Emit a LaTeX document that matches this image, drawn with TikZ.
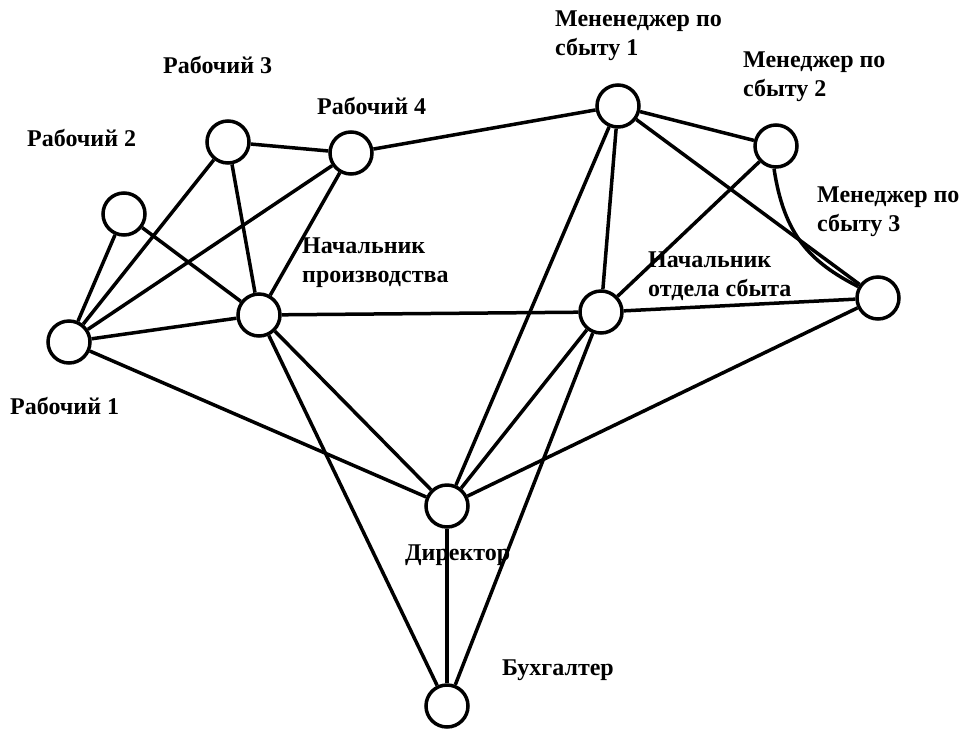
\documentclass[tikz,border=0pt]{standalone}
\usepackage{fontspec}
\setmainfont{Liberation Serif}
\begin{document}
\begin{tikzpicture}[x=1pt,y=-1pt,
  vert/.style={circle,draw,line width=3.5pt,minimum size=42pt,inner sep=0pt},
  lbl/.style={anchor=west,inner sep=0pt,align=left,font=\fontsize{24}{29}\selectfont\bfseries},
  edge/.style={line width=3.5pt}]
\useasboundingbox (0,0) rectangle (972,729);
% vertices
\node[vert] (R1) at (69,342) {};
\node[vert] (R2) at (124,214) {};
\node[vert] (R3) at (228,142) {};
\node[vert] (R4) at (351,153) {};
\node[vert] (NP) at (259,315) {};
\node[vert] (M1) at (618,106) {};
\node[vert] (M2) at (776,146) {};
\node[vert] (M3) at (878,298) {};
\node[vert] (NS) at (601,312) {};
\node[vert] (D) at (447,506) {};
\node[vert] (B) at (447,706) {};
% labels
\node[lbl] (lR1) at (10,406) {Рабочий 1};
\node[lbl] (lR2) at (27,138) {Рабочий 2};
\node[lbl] (lR3) at (163,65) {Рабочий 3};
\node[lbl] (lR4) at (317,106) {Рабочий 4};
\node[lbl] (lNP) at (302,262.5) {Начальник\\производства};
\node[lbl] (lM1) at (555,36) {Мененеджер по\\сбыту 1};
\node[lbl] (lM2) at (743,76.5) {Менеджер по\\сбыту 2};
\node[lbl] (lM3) at (817,211.5) {Менеджер по\\сбыту 3};
\node[lbl] (lNS) at (648,276.5) {Начальник\\отдела сбыта};
\node[lbl] (lD) at (405,555) {Директор};
\node[lbl] (lB) at (502,670) {Бухгалтер};
% edges
\draw[edge] (R1) -- (R2);
\draw[edge] (R1) -- (R3);
\draw[edge] (R1) -- (R4);
\draw[edge] (R1) -- (NP);
\draw[edge] (R1) -- (D);
\draw[edge] (R2) -- (NP);
\draw[edge] (R3) -- (R4);
\draw[edge] (R3) -- (NP);
\draw[edge] (R4) -- (NP);
\draw[edge] (R4) -- (M1);
\draw[edge] (NP) -- (NS);
\draw[edge] (NP) -- (D);
\draw[edge] (NP) -- (B);
\draw[edge] (M1) -- (M2);
\draw[edge] (M1) -- (M3);
\draw[edge] (M1) -- (NS);
\draw[edge] (M1) -- (D);
\draw[edge] (M2) -- (NS);
\draw[edge] (M2.265) .. controls (784,235) and (810,262) .. (M3.150);
\draw[edge] (NS) -- (M3);
\draw[edge] (NS) -- (D);
\draw[edge] (NS) -- (B);
\draw[edge] (D) -- (M3);
\draw[edge] (D) -- (B);
\end{tikzpicture}
\end{document}
